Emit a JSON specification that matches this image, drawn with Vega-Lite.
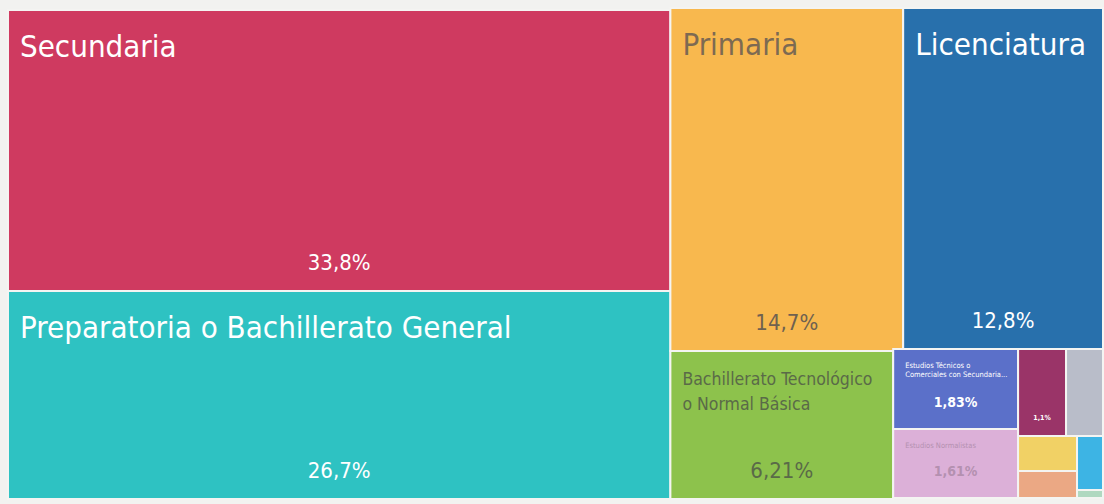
{
  "$schema": "https://vega.github.io/schema/vega-lite/v6.json",
  "autosize": {"type": "fit", "contains": "padding"},
  "width": 1104,
  "height": 504,
  "padding": 0,
  "background": "#f2f2f0",
  "config": {"view": {"stroke": null}, "font": "DejaVu Sans Condensed, Open Sans"},
  "data": {
    "values": [
      {"name": "Secundaria", "label": "Secundaria", "pct": "33,8%", "x0": 8, "x1": 671, "y0": 10, "y1": 291},
      {"name": "Preparatoria o Bachillerato General", "label": "Preparatoria o Bachillerato General", "pct": "26,7%", "x0": 8, "x1": 671, "y0": 291, "y1": 499},
      {"name": "Primaria", "label": "Primaria", "pct": "14,7%", "x0": 671, "x1": 904, "y0": 8, "y1": 351},
      {"name": "Licenciatura", "label": "Licenciatura", "pct": "12,8%", "x0": 904, "x1": 1104, "y0": 8, "y1": 349},
      {"name": "Bachillerato Tecnológico o Normal Básica", "label": "Bachillerato Tecnológico\no Normal Básica", "pct": "6,21%", "x0": 671, "x1": 894, "y0": 351, "y1": 499},
      {"name": "Estudios Técnicos o Comerciales con Secundaria", "label": "Estudios Técnicos o\nComerciales con Secundaria...", "pct": "1,83%", "x0": 894, "x1": 1019, "y0": 349, "y1": 429},
      {"name": "Estudios Normalistas", "label": "Estudios Normalistas", "pct": "1,61%", "x0": 894, "x1": 1019, "y0": 429, "y1": 498},
      {"name": "Maestría", "label": "", "pct": "1,1%", "x0": 1019, "x1": 1067, "y0": 349, "y1": 436},
      {"name": "Ninguno", "label": "", "pct": "", "x0": 1067, "x1": 1104, "y0": 349, "y1": 436},
      {"name": "Preescolar", "label": "", "pct": "", "x0": 1019, "x1": 1078, "y0": 436, "y1": 471},
      {"name": "Estudios Técnicos con Primaria", "label": "", "pct": "", "x0": 1019, "x1": 1078, "y0": 471, "y1": 498},
      {"name": "Doctorado", "label": "", "pct": "", "x0": 1078, "x1": 1104, "y0": 436, "y1": 490},
      {"name": "No especificado", "label": "", "pct": "", "x0": 1078, "x1": 1104, "y0": 490, "y1": 498}
    ]
  },
  "encoding": {
    "x": {"field": "x0", "type": "quantitative", "scale": {"domain": [0, 1104], "nice": false, "zero": false}, "axis": null},
    "y": {"field": "y0", "type": "quantitative", "scale": {"domain": [0, 504], "nice": false, "zero": false, "reverse": true}, "axis": null}
  },
  "layer": [
    {
      "mark": {"type": "rect", "stroke": "#f4f4f2", "strokeWidth": 2},
      "encoding": {
        "x2": {"field": "x1"},
        "y2": {"field": "y1"},
        "color": {
          "field": "name", "type": "nominal", "legend": null,
          "scale": {
            "domain": ["Secundaria", "Preparatoria o Bachillerato General", "Primaria", "Licenciatura", "Bachillerato Tecnológico o Normal Básica", "Estudios Técnicos o Comerciales con Secundaria", "Estudios Normalistas", "Maestría", "Ninguno", "Preescolar", "Estudios Técnicos con Primaria", "Doctorado", "No especificado"],
            "range": ["#cf3a60", "#2ec2c2", "#f8b84e", "#2870ac", "#8dc24c", "#5b70c9", "#dcb0d8", "#9a3468", "#b9bdc9", "#f1d165", "#eba884", "#3db4e4", "#b0d8c0"]
          }
        }
      }
    },
    {
      "transform": [{"filter": {"field": "name", "oneOf": ["Secundaria", "Preparatoria o Bachillerato General", "Primaria", "Licenciatura"]}}],
      "mark": {"type": "text", "align": "left", "baseline": "middle", "dx": 12, "dy": 38, "fontSize": 31},
      "encoding": {
        "text": {"field": "label"},
        "color": {"field": "name", "type": "nominal", "legend": null,
          "scale": {"domain": ["Secundaria", "Preparatoria o Bachillerato General", "Primaria", "Licenciatura"], "range": ["#ffffff", "#ffffff", "#7d6a52", "#ffffff"]}}
      }
    },
    {
      "transform": [{"filter": {"field": "name", "equal": "Bachillerato Tecnológico o Normal Básica"}}],
      "mark": {"type": "text", "align": "left", "baseline": "middle", "dx": 12, "dy": 29, "fontSize": 17.5, "lineHeight": 25, "lineBreak": "\n", "color": "#5a6a48"},
      "encoding": {"text": {"field": "label"}}
    },
    {
      "transform": [{"filter": {"field": "name", "oneOf": ["Estudios Técnicos o Comerciales con Secundaria", "Estudios Normalistas"]}}],
      "mark": {"type": "text", "align": "left", "baseline": "middle", "dx": 12, "dy": 17, "fontSize": 7.5, "lineHeight": 9, "lineBreak": "\n"},
      "encoding": {
        "text": {"field": "label"},
        "color": {"field": "name", "type": "nominal", "legend": null,
          "scale": {"domain": ["Estudios Técnicos o Comerciales con Secundaria", "Estudios Normalistas"], "range": ["#ffffff", "#b490b0"]}}
      }
    },
    {
      "transform": [
        {"filter": {"field": "name", "oneOf": ["Secundaria", "Preparatoria o Bachillerato General", "Primaria", "Licenciatura", "Bachillerato Tecnológico o Normal Básica"]}},
        {"fold": ["x0", "x1"], "as": ["edge", "xv"]},
        {"aggregate": [{"op": "mean", "field": "xv", "as": "xm"}], "groupby": ["name", "pct", "y1"]}
      ],
      "mark": {"type": "text", "align": "center", "baseline": "middle", "dy": -28, "fontSize": 22},
      "encoding": {
        "x": {"field": "xm", "type": "quantitative"},
        "y": {"field": "y1", "type": "quantitative"},
        "text": {"field": "pct"},
        "color": {"field": "name", "type": "nominal", "legend": null,
          "scale": {"domain": ["Secundaria", "Preparatoria o Bachillerato General", "Primaria", "Licenciatura", "Bachillerato Tecnológico o Normal Básica"], "range": ["#ffffff", "#ffffff", "#6f6150", "#ffffff", "#5a6a48"]}}
      }
    },
    {
      "transform": [
        {"filter": {"field": "name", "oneOf": ["Estudios Técnicos o Comerciales con Secundaria", "Estudios Normalistas"]}},
        {"fold": ["x0", "x1"], "as": ["edge", "xv"]},
        {"aggregate": [{"op": "mean", "field": "xv", "as": "xm"}], "groupby": ["name", "pct", "y1"]}
      ],
      "mark": {"type": "text", "align": "center", "baseline": "middle", "dy": -26, "fontSize": 14, "fontWeight": "bold"},
      "encoding": {
        "x": {"field": "xm", "type": "quantitative"},
        "y": {"field": "y1", "type": "quantitative"},
        "text": {"field": "pct"},
        "color": {"field": "name", "type": "nominal", "legend": null,
          "scale": {"domain": ["Estudios Técnicos o Comerciales con Secundaria", "Estudios Normalistas"], "range": ["#ffffff", "#b490b0"]}}
      }
    },
    {
      "transform": [
        {"filter": {"field": "name", "equal": "Maestría"}},
        {"fold": ["x0", "x1"], "as": ["edge", "xv"]},
        {"aggregate": [{"op": "mean", "field": "xv", "as": "xm"}], "groupby": ["name", "pct", "y1"]}
      ],
      "mark": {"type": "text", "align": "center", "baseline": "middle", "dy": -18, "fontSize": 7, "fontWeight": "bold", "color": "#ffffff"},
      "encoding": {
        "x": {"field": "xm", "type": "quantitative"},
        "y": {"field": "y1", "type": "quantitative"},
        "text": {"field": "pct"}
      }
    }
  ],
  "resolve": {"scale": {"color": "independent"}}
}
